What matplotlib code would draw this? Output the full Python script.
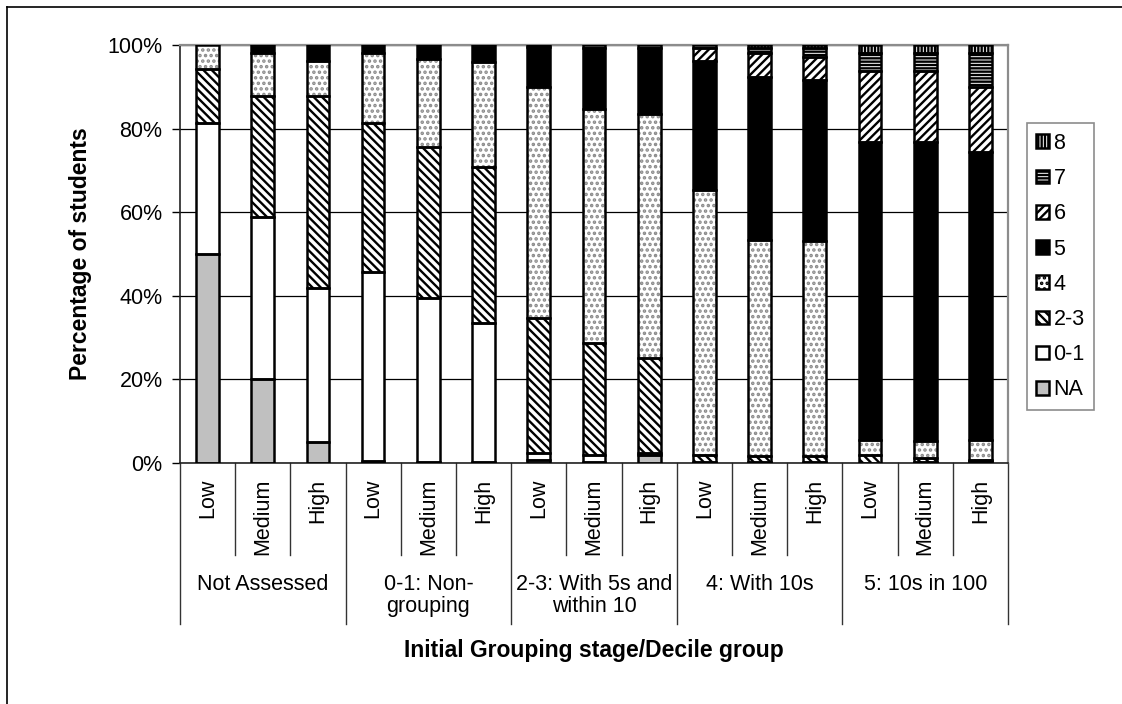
import numpy as np
import matplotlib.pyplot as plt
from matplotlib.patches import Patch
from matplotlib.ticker import PercentFormatter

plt.rcParams['font.family'] = ['Liberation Sans', 'DejaVu Sans']
plt.rcParams['hatch.linewidth'] = 1.7

groups = ['Not Assessed', '0-1: Non-\ngrouping', '2-3: With 5s and\nwithin 10',
          '4: With 10s', '5: 10s in 100']
deciles = ['Low', 'Medium', 'High']
stages = ['NA', '0-1', '2-3', '4', '5', '6', '7', '8']

# percentage of students at each final stage, per stage/decile bar
na = [50.0, 20.0, 5.0, 0.6, 0.2, 0.3, 0.8, 0.2, 1.8, 0, 0, 0, 0, 0, 0]
s01 = [31.4, 38.8, 36.8, 45.1, 39.2, 33.2, 1.6, 1.6, 0.6, 0.3, 0.3, 0.3, 0, 0.3, 0.4]
s23 = [12.8, 29.1, 46.1, 35.7, 36.1, 37.3, 32.3, 26.9, 22.7, 1.5, 1.4, 1.3, 2.0, 0.9, 0.4]
s4 = [5.8, 10.3, 8.3, 16.6, 21.2, 25.1, 55.3, 55.9, 58.3, 63.5, 51.7, 51.4, 3.6, 4.0, 4.8]
s5 = [0, 1.8, 3.8, 2.0, 3.3, 4.1, 9.6, 14.8, 16.0, 31.0, 39.0, 38.6, 71.1, 71.7, 68.9]
s6 = [0, 0, 0, 0, 0, 0, 0, 0, 0, 3.1, 5.8, 5.6, 17.1, 16.9, 15.4]
s7 = [0, 0, 0, 0, 0, 0, 0.4, 0.6, 0.6, 0.6, 1.0, 2.0, 4.2, 4.4, 8.1]
s8 = [0, 0, 0, 0, 0, 0, 0, 0, 0, 0, 0.8, 0.8, 2.0, 1.8, 2.0]
series = [na, s01, s23, s4, s5, s6, s7, s8]

# fill, hatch and hatch colour for each stage
styles = {
    'NA': ('#c0c0c0', None, 'black'),
    '0-1': ('white', None, 'black'),
    '2-3': ('white', '\\\\\\\\', 'black'),
    '4': ('white', '...', '#8a8a8a'),
    '5': ('black', None, 'black'),
    '6': ('white', '////', 'black'),
    '7': ('white', '-----', 'black'),
    '8': ('white', '|||||', 'black'),
}

fig = plt.figure(figsize=(11.22, 7.04), dpi=100)
ax = fig.add_axes([0.1604, 0.3423, 0.7380, 0.5937])

x = np.arange(len(na))
width = 0.41
bottom = np.zeros(len(x))
for name, vals in zip(stages, series):
    vals = np.array(vals, dtype=float)
    face, hatch, hcol = styles[name]
    keep = vals > 0
    # hatch drawn first in its own colour, outline on top in black
    ax.bar(x[keep], vals[keep], width, bottom=bottom[keep], color=face,
           edgecolor=hcol, hatch=hatch, linewidth=0, zorder=2)
    ax.bar(x[keep], vals[keep], width, bottom=bottom[keep], fill=False,
           edgecolor='black', linewidth=1.8, zorder=3)
    bottom += vals

ax.set_xlim(-0.5, len(x) - 0.5)
ax.set_ylim(0, 100)
ax.set_yticks(np.arange(0, 101, 20))
ax.yaxis.set_major_formatter(PercentFormatter(decimals=0))
ax.tick_params(axis='y', direction='out', length=5.5, width=1, pad=7,
               labelsize=15.5)
ax.set_xticks([])
ax.grid(axis='y', color='black', linewidth=0.9, zorder=0)
ax.set_axisbelow(True)

for side in ['top', 'right']:
    ax.spines[side].set_color('#8c8c8c')
    ax.spines[side].set_linewidth(1.6)
for side in ['left', 'bottom']:
    ax.spines[side].set_color('#222222')
    ax.spines[side].set_linewidth(1.2)

# category separators and labels below the axis
trans = ax.get_xaxis_transform()
for i in range(len(x) + 1):
    depth = -0.385 if i % 3 == 0 else -0.22
    ax.plot([i - 0.5, i - 0.5], [0, depth], color='#333333', linewidth=1,
            transform=trans, clip_on=False)
for i in x:
    ax.text(i, -0.037, deciles[i % 3], rotation=90, ha='center', va='top',
            fontsize=15.5, transform=trans)
for g, label in enumerate(groups):
    ax.text(3 * g + 1, -0.265, label, ha='center', va='top', fontsize=15.5,
            linespacing=1.1, transform=trans)

ax.text(0.5, -0.449, 'Initial Grouping stage/Decile group', ha='center',
        va='center', fontsize=16.5, fontweight='bold', transform=ax.transAxes)
ax.text(-0.12, 0.5, 'Percentage of students', ha='center', va='center',
        rotation=90, fontsize=16.5, fontweight='bold', transform=ax.transAxes)

handles = []
for name in stages[::-1]:
    face, hatch, hcol = styles[name]
    handles.append(Patch(facecolor=face, edgecolor='black', hatch=hatch,
                         linewidth=1.8, label=name))
leg = fig.legend(handles=handles, loc='upper left',
                 bbox_to_anchor=(0.915, 0.825), fontsize=15.5, frameon=True,
                 fancybox=False, edgecolor='#8c8c8c', framealpha=1,
                 handlelength=0.6, handleheight=0.6, handletextpad=0.2,
                 labelspacing=0.66, borderpad=0.45, borderaxespad=0)
leg.get_frame().set_linewidth(1.2)

# outer chart border
fig.add_artist(plt.Line2D([7 / 1122, 1], [1 - 7 / 704, 1 - 7 / 704],
                          color='black', linewidth=1.2))
fig.add_artist(plt.Line2D([7 / 1122, 7 / 1122], [0, 1 - 7 / 704],
                          color='black', linewidth=1.2))

fig.savefig('out.png', dpi=100)
